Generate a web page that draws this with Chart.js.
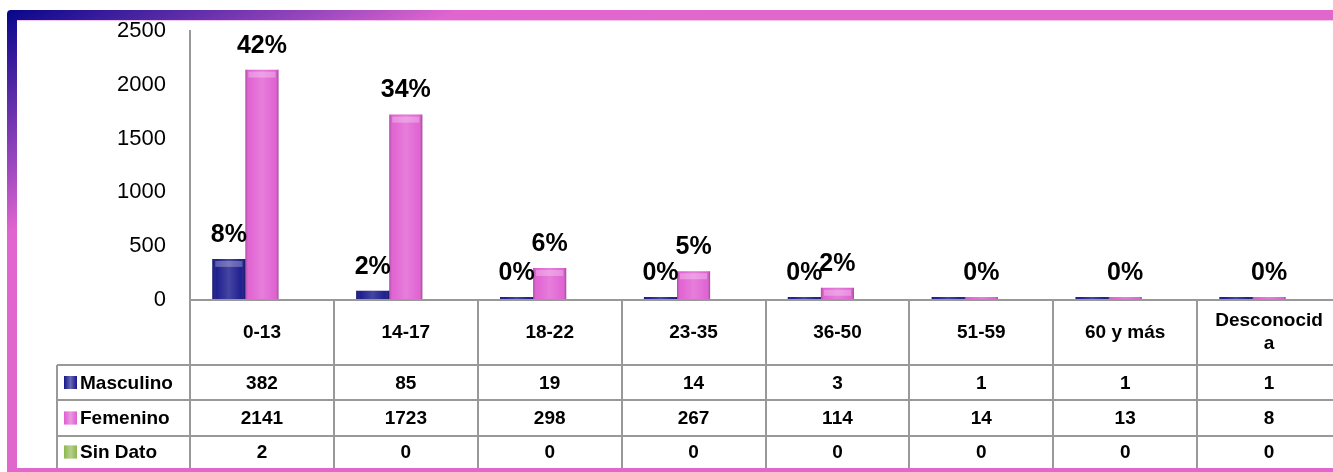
<!DOCTYPE html>
<html lang="es">
<head>
    <meta charset="UTF-8">
    <title>Casos por edad y sexo</title>
    <script src="https://cdn.jsdelivr.net/npm/chart.js"></script>
    <style>
        html, body { margin: 0; padding: 0; background: #fff; overflow: hidden; }
        #wrap { position: absolute; left: 0; top: 0; width: 1345px; height: 472px; }
    </style>
</head>
<body>
    <div id="wrap"><canvas id="edadChart"></canvas></div>

    <script>
        const categories = ['0-13', '14-17', '18-22', '23-35', '36-50', '51-59', '60 y más', ['Desconocid', 'a']];
        const masculino = [382, 85, 19, 14, 3, 1, 1, 1];
        const femenino = [2141, 1723, 298, 267, 114, 14, 13, 8];
        const sinDato = [2, 0, 0, 0, 0, 0, 0, 0];
        const mascPct = ['8%', '2%', '0%', '0%', '0%', '', '', ''];
        const femPct = ['42%', '34%', '6%', '5%', '2%', '0%', '0%', '0%'];
        const yMin = 0, yMax = 2500, yStep = 500;

        const FONT = 'Arial, "Liberation Sans", sans-serif';
        const seriesColors = ['#16168a', '#e05ed2', '#8db64e'];

        // filas de la tabla (arriba de cada fila)
        const rowTop = [300, 365, 400, 436, 468];
        const legendLeft = 57;

        const bgPlugin = {
            id: 'bg',
            beforeDraw(chart) {
                const c = chart.ctx;
                c.save();
                c.fillStyle = '#fff';
                c.fillRect(0, 0, chart.width, chart.height);
                c.restore();
            }
        };

        // brillo tipo 3D sobre las barras
        const glossPlugin = {
            id: 'gloss',
            afterDatasetsDraw(chart) {
                const c = chart.ctx;
                chart.data.datasets.forEach((ds, di) => {
                    chart.getDatasetMeta(di).data.forEach(bar => {
                        const w = bar.width, l = bar.x - w / 2;
                        const top = Math.min(bar.y, bar.base), h = Math.abs(bar.base - bar.y);
                        if (h < 1) return;
                        const g = c.createLinearGradient(l, 0, l + w, 0);
                        g.addColorStop(0, 'rgba(0,0,0,0.25)');
                        g.addColorStop(0.12, 'rgba(255,255,255,0.04)');
                        g.addColorStop(0.5, 'rgba(255,255,255,0.2)');
                        g.addColorStop(0.88, 'rgba(255,255,255,0.04)');
                        g.addColorStop(1, 'rgba(0,0,0,0.28)');
                        c.save();
                        c.fillStyle = g;
                        c.fillRect(l, top, w, h);
                        if (h > 10) {
                            c.fillStyle = 'rgba(255,255,255,0.28)';
                            c.fillRect(l + 3, top + 2, w - 6, 6);
                        }
                        c.restore();
                    });
                });
            }
        };

        // etiquetas de porcentaje
        const pctPlugin = {
            id: 'pct',
            afterDatasetsDraw(chart) {
                const c = chart.ctx;
                c.save();
                c.font = 'bold 25px ' + FONT;
                c.fillStyle = '#000';
                c.textAlign = 'center';
                c.textBaseline = 'middle';
                [mascPct, femPct].forEach((labels, di) => {
                    const meta = chart.getDatasetMeta(di);
                    labels.forEach((t, i) => {
                        if (!t) return;
                        const bar = meta.data[i];
                        c.fillText(t, bar.x, bar.y - 24);
                    });
                });
                c.restore();
            }
        };

        // tabla de datos bajo el gráfico
        const tablePlugin = {
            id: 'table',
            afterDraw(chart) {
                const c = chart.ctx;
                const x = chart.scales.x;
                const n = categories.length;
                const cw = (chart.chartArea.right - chart.chartArea.left) / n;
                const right = chart.width;
                c.save();
                c.strokeStyle = '#999';
                c.lineWidth = 2;
                c.beginPath();
                c.moveTo(chart.chartArea.left, rowTop[0]); c.lineTo(right, rowTop[0]);
                for (let r = 1; r < rowTop.length - 1; r++) {
                    c.moveTo(legendLeft, rowTop[r]); c.lineTo(right, rowTop[r]);
                }
                for (let i = 0; i <= n; i++) {
                    const bx = Math.round(x.getPixelForValue(i) - cw / 2);
                    c.moveTo(bx, rowTop[0]); c.lineTo(bx, rowTop[rowTop.length - 1]);
                }
                c.moveTo(legendLeft, rowTop[1]); c.lineTo(legendLeft, rowTop[rowTop.length - 1]);
                c.stroke();

                c.fillStyle = '#000';
                c.textAlign = 'center';
                c.textBaseline = 'middle';
                c.font = 'bold 19px ' + FONT;
                categories.forEach((lab, i) => {
                    const cx = x.getPixelForValue(i);
                    const lines = Array.isArray(lab) ? lab : [lab];
                    const mid = (rowTop[0] + rowTop[1]) / 2;
                    lines.forEach((ln, k) => {
                        c.fillText(ln, cx, mid + (k - (lines.length - 1) / 2) * 23);
                    });
                });

                chart.data.datasets.forEach((ds, di) => {
                    const mid = (rowTop[di + 1] + rowTop[di + 2]) / 2 + 1;
                    ds.data.forEach((v, i) => {
                        c.fillText(String(v), x.getPixelForValue(i), mid);
                    });
                    // leyenda
                    const sw = 13;
                    const g = c.createLinearGradient(64, 0, 64 + sw, 0);
                    g.addColorStop(0, seriesColors[di]);
                    g.addColorStop(0.5, '#fff');
                    g.addColorStop(1, seriesColors[di]);
                    c.fillStyle = seriesColors[di];
                    c.fillRect(64, mid - sw / 2 - 1, sw, sw);
                    c.globalAlpha = 0.35;
                    c.fillStyle = g;
                    c.fillRect(64, mid - sw / 2 - 1, sw, sw);
                    c.globalAlpha = 1;
                    c.fillStyle = '#000';
                    c.textAlign = 'left';
                    c.fillText(ds.label, 80, mid);
                    c.textAlign = 'center';
                });
                c.restore();
            }
        };

        // marco degradado
        const framePlugin = {
            id: 'frame',
            afterDraw(chart) {
                const c = chart.ctx;
                const g = c.createLinearGradient(7, 10, 150, 300);
                g.addColorStop(0, '#06068a');
                g.addColorStop(0.45, '#a04ac0');
                g.addColorStop(0.62, '#e165cf');
                g.addColorStop(1, '#e068cc');
                c.save();
                c.fillStyle = g;
                c.beginPath();
                c.moveTo(7, 472);
                c.lineTo(7, 14);
                c.quadraticCurveTo(7, 10, 11, 10);
                c.lineTo(chart.width, 10);
                c.lineTo(chart.width, 20);
                c.lineTo(17, 20);
                c.lineTo(17, 472);
                c.closePath();
                c.fill();
                c.fillStyle = '#f2c6ec';
                c.fillRect(17, 20, chart.width, 1);
                c.fillStyle = '#e068cc';
                c.fillRect(7, 468, chart.width, 4);
                c.restore();
            }
        };

        const ctx = document.getElementById('edadChart').getContext('2d');
        new Chart(ctx, {
            type: 'bar',
            data: {
                labels: categories,
                datasets: [
                    { label: 'Masculino', data: masculino, backgroundColor: seriesColors[0], minBarLength: 3 },
                    { label: 'Femenino', data: femenino, backgroundColor: seriesColors[1], minBarLength: 3 },
                    { label: 'Sin Dato', data: sinDato, backgroundColor: seriesColors[2] }
                ]
            },
            options: {
                responsive: true,
                maintainAspectRatio: false,
                animation: false,
                categoryPercentage: 0.69,
                barPercentage: 1.0,
                layout: { padding: { left: 0, top: 31, right: 4, bottom: 172 } },
                plugins: {
                    legend: { display: false },
                    tooltip: { enabled: false }
                },
                scales: {
                    x: {
                        grid: { display: false },
                        border: { display: false },
                        ticks: { display: false },
                        afterFit: s => { s.height = 0; }
                    },
                    y: {
                        min: yMin,
                        max: yMax,
                        grid: { display: false },
                        border: { display: true, color: '#999', width: 2 },
                        ticks: {
                            stepSize: yStep,
                            padding: 16,
                            color: '#000',
                            font: { family: FONT, size: 22 },
                            callback: v => String(v)
                        },
                        afterFit: s => {
                            s.width = 190;
                            s.paddingTop = 0;
                            s.paddingBottom = 0;
                        }
                    }
                }
            },
            plugins: [bgPlugin, glossPlugin, pctPlugin, tablePlugin, framePlugin]
        });
    </script>
</body>
</html>
